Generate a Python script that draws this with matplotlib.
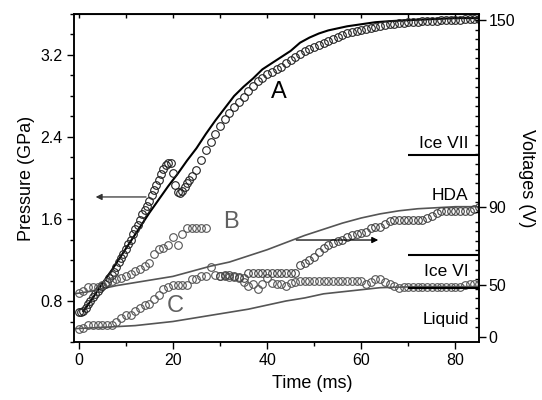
import matplotlib
matplotlib.use('Agg')
import matplotlib.pyplot as plt
import numpy as np
from matplotlib.ticker import MultipleLocator

plt.rcParams['font.family'] = ['Liberation Sans', 'DejaVu Sans']

# ---------------- data (pressure in GPa, time in ms) ----------------
# curve A, measured points
tA = list(np.arange(0, 24.01, 0.5)) + list(range(25, 86))
pA = [0.69, 0.69, 0.70, 0.73, 0.77, 0.80, 0.84, 0.87, 0.90, 0.93,
      0.95, 0.97, 0.99, 1.02, 1.05, 1.08, 1.13, 1.18, 1.22, 1.26,
      1.31, 1.36, 1.40, 1.45, 1.50, 1.54, 1.59, 1.65, 1.69, 1.73,
      1.78, 1.83, 1.88, 1.93, 1.98, 2.04, 2.09, 2.13, 2.15, 2.15,
      2.05, 1.93, 1.86, 1.85, 1.87, 1.91, 1.95, 1.98, 2.02,
      2.08, 2.18, 2.27, 2.35, 2.43, 2.51, 2.58, 2.63, 2.69, 2.74,
      2.79, 2.85, 2.90, 2.95, 2.98, 3.01, 3.03, 3.06, 3.08, 3.12,
      3.15, 3.18, 3.21, 3.24, 3.26, 3.28, 3.30, 3.32, 3.34, 3.36,
      3.38, 3.40, 3.41, 3.42, 3.43, 3.44, 3.45, 3.46, 3.47, 3.48,
      3.49, 3.50, 3.50, 3.51, 3.51, 3.52, 3.52, 3.52, 3.53, 3.53,
      3.53, 3.53, 3.54, 3.54, 3.54, 3.54, 3.54, 3.55, 3.55, 3.55,
      3.55]
# curve A, solid line
tA_line = [1, 3, 5, 7, 9, 11, 13, 15, 17, 19, 21, 23, 25, 27, 29, 31, 33, 35,
           37, 39, 41, 43, 45, 47, 49, 51, 53, 55, 57, 60, 63, 66, 70, 75, 80, 85]
pA_line = [0.70, 0.83, 0.97, 1.10, 1.24, 1.38, 1.52, 1.66, 1.79, 1.92, 2.04,
           2.17, 2.29, 2.43, 2.56, 2.68, 2.80, 2.89, 2.97, 3.06, 3.12, 3.18,
           3.24, 3.32, 3.37, 3.41, 3.44, 3.46, 3.48, 3.50, 3.52, 3.53, 3.54,
           3.55, 3.56, 3.56]

# curve B, measured points
tB = list(range(0, 28))
pB = [0.88, 0.90, 0.94, 0.94, 0.94, 0.96, 0.99, 1.00, 1.01, 1.02,
      1.04, 1.06, 1.09, 1.11, 1.14, 1.17, 1.26, 1.31, 1.32, 1.35,
      1.42, 1.35, 1.45, 1.51, 1.51, 1.51, 1.51, 1.51]
# curve B, line
tB_line = [-1, 2, 5, 8, 12, 16, 20, 24, 28, 32, 36, 40, 44, 48, 52, 56, 60,
           64, 68, 72, 76, 80, 85]
pB_line = [0.87, 0.89, 0.92, 0.95, 0.98, 1.01, 1.04, 1.09, 1.14, 1.18, 1.24,
           1.30, 1.37, 1.44, 1.50, 1.56, 1.61, 1.65, 1.68, 1.70, 1.71, 1.72,
           1.72]

# curve C, measured points
tC = list(range(0, 86))
pC = [0.53, 0.54, 0.57, 0.57, 0.57, 0.57, 0.57, 0.57, 0.60, 0.63,
      0.66, 0.66, 0.70, 0.73, 0.76, 0.77, 0.82, 0.86, 0.92, 0.94,
      0.96, 0.96, 0.96, 0.96, 1.01, 1.01, 1.04, 1.04, 1.13, 1.05,
      1.04, 1.04, 1.03, 1.03, 1.02, 0.99, 0.95, 0.97, 0.92, 0.97,
      1.02, 0.98, 0.97, 0.97, 0.95, 0.98, 0.99, 1.00, 1.00, 1.00,
      1.00, 1.00, 1.00, 1.00, 1.00, 1.00, 1.00, 1.00, 1.00, 1.00,
      1.00, 0.97, 0.99, 1.01, 1.01, 0.99, 0.97, 0.95, 0.93, 0.94,
      0.94, 0.94, 0.94, 0.94, 0.94, 0.94, 0.94, 0.94, 0.94, 0.94,
      0.94, 0.94, 0.96, 0.97, 0.97, 0.97]
# curve C, line
tC_line = [-1, 4, 8, 12, 16, 20, 24, 28, 32, 36, 40, 44, 48, 52, 56, 60, 64,
           68, 72, 76, 80, 85]
pC_line = [0.53, 0.54, 0.55, 0.56, 0.58, 0.60, 0.63, 0.66, 0.69, 0.72, 0.76,
           0.80, 0.83, 0.87, 0.89, 0.91, 0.93, 0.935, 0.94, 0.94, 0.94, 0.94]

# voltage trace (right axis, drawn in pressure coordinates)
tV = list(range(30, 86))
pV = [1.04, 1.05, 1.05, 1.04, 1.03, 1.02, 1.07, 1.07, 1.07, 1.07,
      1.07, 1.07, 1.07, 1.07, 1.07, 1.07, 1.07, 1.15, 1.17, 1.20,
      1.23, 1.28, 1.32, 1.35, 1.37, 1.39, 1.40, 1.42, 1.44, 1.45,
      1.46, 1.47, 1.51, 1.52, 1.52, 1.55, 1.58, 1.59, 1.59, 1.59,
      1.59, 1.59, 1.59, 1.59, 1.61, 1.63, 1.66, 1.68, 1.68, 1.68,
      1.68, 1.68, 1.68, 1.68, 1.70, 1.72]

# right-axis calibration: voltage tick labels and their pressure positions
volt_labels = ['0', '50', '90', '150']
volt_pos = [0.45, 0.955, 1.715, 3.54]

# phase boundaries (pressure) and labels
phase_lines = [2.224, 1.249, 0.925]
phase_names = ['Ice VII', 'HDA', 'Ice VI', 'Liquid']
phase_label_p = [2.34, 1.834, 1.083, 0.615]

# ---------------- plot ----------------
fig = plt.figure(figsize=(5.42, 4.0), dpi=100)
ax = fig.add_axes([74/542, 1-342/400, (479-74)/542, (342-14)/400])

dark = '#222222'
grey = '#555555'
ms = 5.5
mew = 0.8

ax.plot(tC_line, pC_line, color=grey, lw=1.2)
ax.plot(tB_line, pB_line, color=grey, lw=1.2)
ax.plot(tA_line, pA_line, color='black', lw=1.5)
ax.plot(tA, pA, ls='none', marker='o', ms=ms, mfc='none', mec=dark, mew=mew)
ax.plot(tB, pB, ls='none', marker='o', ms=ms, mfc='none', mec=grey, mew=mew)
ax.plot(tC, pC, ls='none', marker='o', ms=ms, mfc='none', mec=grey, mew=mew)
ax.plot(tV, pV, ls='none', marker='o', ms=ms, mfc='none', mec='#444444', mew=mew)

for p in phase_lines:
    ax.plot([70, 85], [p, p], color='black', lw=1.5, solid_capstyle='butt')
for name, p in zip(phase_names, phase_label_p):
    ax.text(82.8, p, name, ha='right', va='center', fontsize=12.5, color='black')

ax.text(42.5, 2.84, 'A', fontsize=17, color='black', ha='center', va='center')
ax.text(32.4, 1.57, 'B', fontsize=17, color='#606060', ha='center', va='center')
ax.text(20.6, 0.75, 'C', fontsize=17, color='#606060', ha='center', va='center')

ax.annotate('', xy=(3.6, 1.815), xytext=(14.3, 1.815),
            arrowprops=dict(arrowstyle='-|>', color='#333333', lw=0.9,
                            mutation_scale=9, shrinkA=0, shrinkB=0))
ax.annotate('', xy=(63.6, 1.395), xytext=(46.2, 1.395),
            arrowprops=dict(arrowstyle='-|>', color='black', lw=0.9,
                            mutation_scale=9, shrinkA=0, shrinkB=0))

ax.set_xlim(-1, 85)
ax.set_ylim(0.4, 3.6)
ax.xaxis.set_major_locator(MultipleLocator(20))
ax.xaxis.set_minor_locator(MultipleLocator(10))
ax.yaxis.set_minor_locator(MultipleLocator(0.2))
ax.set_yticks([0.8, 1.6, 2.4, 3.2])
ax.set_yticklabels(['0.8', '1.6', '2.4', '3.2'])
ax.tick_params(axis='both', which='major', direction='out', length=5, width=1,
               labelsize=11.5, pad=3)
ax.tick_params(axis='both', which='minor', direction='out', length=3, width=1)
ax.tick_params(axis='y', right=False)
ax.tick_params(axis='x', top=False)
for s in ax.spines.values():
    s.set_linewidth(1.1)

sec = ax.secondary_xaxis('top')
sec.set_xticks(list(range(0, 90, 10)))
sec.set_xticklabels([])
sec.tick_params(direction='in', length=3, width=1)

ax2 = ax.twinx()
ax2.set_ylim(0.4, 3.6)
ax2.set_yticks(volt_pos)
ax2.set_yticklabels(volt_labels)
ax2.set_yticks(np.arange(0.45, 3.56, 0.0937), minor=True)
ax2.tick_params(axis='y', which='major', direction='out', length=5, width=1,
                labelsize=11.5, pad=2)
ax2.tick_params(axis='y', which='minor', direction='in', length=3, width=1)
for s in ax2.spines.values():
    s.set_linewidth(1.1)

ax.set_ylabel('Pressure (GPa)', fontsize=13, labelpad=4)
ax2.set_ylabel('Voltages (V)', fontsize=13, rotation=270, labelpad=14)
ax.set_xlabel('Time (ms)', fontsize=13)
ax.xaxis.set_label_coords(0.588, -0.10)

fig.savefig('out.png', dpi=100)
